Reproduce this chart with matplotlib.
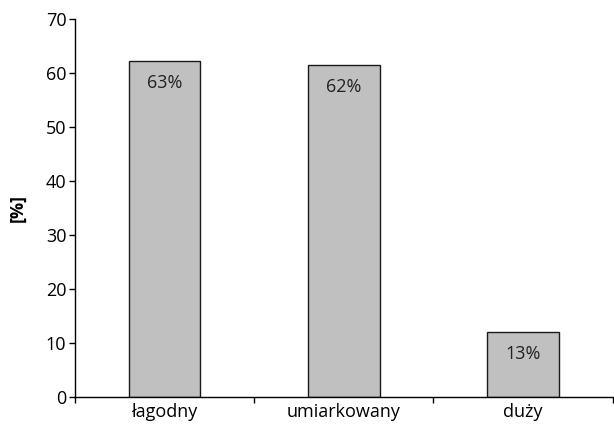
import matplotlib
matplotlib.use("Agg")
import matplotlib.pyplot as plt

categories = ["łagodny", "umiarkowany", "duży"]
values = [62.2, 61.5, 12.1]
labels = ["63%", "62%", "13%"]

plt.rcParams['font.family'] = ['Open Sans', 'DejaVu Sans']

fig = plt.figure(figsize=(6.14, 4.25), dpi=100)
ax = fig.add_axes([0.1217, 0.0652, 0.8763, 0.8908])

x = list(range(len(categories)))
bars = ax.bar(x, values, width=0.4, color="#c0c0c0", edgecolor="#1a1a1a", linewidth=1.0)
for xi, v, lab in zip(x, values, labels):
    ax.annotate(lab, (xi, v), xytext=(0, -22), textcoords="offset pixels",
                ha="center", va="center", fontsize=13, color="#222222")

ax.set_xlim(-0.5, len(categories) - 0.5)
ax.set_ylim(0, 70)
ax.set_yticks(range(0, 71, 10))
ax.set_xticks([i - 0.5 for i in range(len(categories) + 1)])
ax.set_xticklabels([])
ax.set_xticks(x, minor=True)
ax.set_xticklabels(categories, minor=True)
ax.tick_params(axis="x", which="minor", length=0, labelsize=13, pad=4)
ax.tick_params(axis="x", which="major", length=4.5, width=1, direction="out")
ax.tick_params(axis="y", length=4.5, width=1, direction="out", labelsize=13, pad=1.5)

for s in ["top", "right"]:
    ax.spines[s].set_visible(False)
for s in ["left", "bottom"]:
    ax.spines[s].set_linewidth(1.0)

ax.set_ylabel("[%]", fontsize=13, fontweight="bold", labelpad=14)

fig.savefig("out.png", dpi=100)
